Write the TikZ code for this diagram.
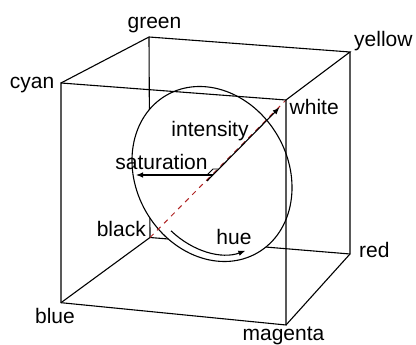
\documentclass[tikz,border=0pt]{standalone}
\usepackage{fontspec}
\setmainfont{Liberation Sans}
\usetikzlibrary{arrows.meta}
\definecolor{axisred}{RGB}{175,35,35}
\begin{document}
\begin{tikzpicture}[x=1pt,y=1pt,
  edge/.style={line width=1.1pt,black},
  lbl/.style={font=\fontsize{21}{25}\selectfont,inner sep=0pt},
  arr/.style={line width=1.1pt,-{Latex[length=7pt,width=5.5pt]}}]
\useasboundingbox (0,0) rectangle (416,345);
% cube vertices (image y flipped)
\coordinate (green) at (149,308);
\coordinate (yellow) at (350,293);
\coordinate (cyan) at (61,262);
\coordinate (white) at (286,245);
\coordinate (black) at (150,107.5);
\coordinate (red) at (350,91);
\coordinate (blue) at (61,42.3);
\coordinate (magenta) at (286,20);
\coordinate (c) at (212,171);
% back edges
\draw[edge] (green) -- (black);
\draw[edge] (black) -- (red);
\draw[edge] (black) -- (blue);
% disc
\draw[edge,fill=white,rotate around={-60:(c)}] (c) ellipse [x radius=91,y radius=76];
% axis
\draw[axisred,line width=1pt,dash pattern=on 5pt off 5pt] (black) -- (white);
% front edges
\draw[edge] (cyan) -- (white) -- (magenta) -- (blue) -- cycle;
\draw[edge] (cyan) -- (green) -- (yellow) -- (white);
\draw[edge] (yellow) -- (red) -- (magenta);
% arrows
\coordinate (istart) at (207,164);
\coordinate (iend) at (279.5,237.5);
\draw[arr] (istart) -- (iend);
\coordinate (sstart) at (213,170);
\coordinate (send) at (136,170);
\draw[arr] (sstart) -- (send);
\coordinate (m1) at (207,170);
\coordinate (m2) at (213,176);
\coordinate (m3) at (218.5,176);
\draw[edge,line width=0.9pt] (m1) -- (m2) -- (m3);
\draw[arr,rotate around={-60:(c)}] (c) ++({84*cos(-70)},{68*sin(-70)})
  arc[start angle=-70,end angle=-8,x radius=84,y radius=68];
% labels
\node[lbl,anchor=base] (lgreen) at (154.5,316) {green};
\node[lbl,anchor=base west] (lyellow) at (354,298.3) {yellow};
\node[lbl,anchor=base east] (lcyan) at (54.5,256.7) {cyan};
\node[lbl,anchor=base west] (lwhite) at (289.5,230) {white};
\node[lbl,anchor=base] (lint) at (210,208.3) {intensity};
\node[lbl,anchor=base] (lsat) at (161.5,175) {saturation};
\node[lbl,anchor=base east] (lblack) at (146,108.3) {black};
\node[lbl,anchor=base] (lhue) at (234,100) {hue};
\node[lbl,anchor=base west] (lred) at (359,87) {red};
\node[lbl,anchor=base] (lblue) at (55,21) {blue};
\node[lbl,anchor=base] (lmag) at (283.5,4.8) {magenta};
\end{tikzpicture}
\end{document}
